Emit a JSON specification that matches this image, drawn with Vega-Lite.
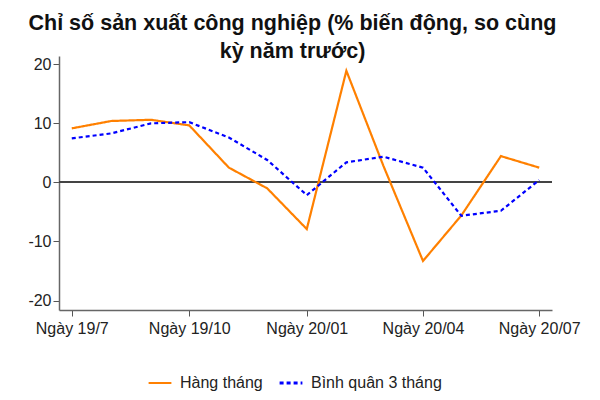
{
  "$schema": "https://vega.github.io/schema/vega-lite/v6.json",
  "width": 493,
  "height": 254,
  "autosize": {"type": "none"},
  "padding": {"left": 59, "top": 56, "right": 48, "bottom": 90},
  "background": "white",
  "config": {
    "font": "Liberation Sans",
    "view": {"stroke": null}
  },
  "title": {
    "text": ["Chỉ số sản xuất công nghiệp (% biến động, so cùng", "kỳ năm trước)"],
    "fontSize": 21.5,
    "fontWeight": "bold",
    "lineHeight": 28,
    "color": "#111",
    "anchor": "middle",
    "dx": -13,
    "offset": -6
  },
  "data": {
    "values": [
      {"date": "2019-07-01", "series": "Hàng tháng", "value": 9.15},
      {"date": "2019-08-01", "series": "Hàng tháng", "value": 10.4},
      {"date": "2019-09-01", "series": "Hàng tháng", "value": 10.6},
      {"date": "2019-10-01", "series": "Hàng tháng", "value": 9.65},
      {"date": "2019-11-01", "series": "Hàng tháng", "value": 2.5},
      {"date": "2019-12-01", "series": "Hàng tháng", "value": -1.0},
      {"date": "2020-01-01", "series": "Hàng tháng", "value": -7.9},
      {"date": "2020-02-01", "series": "Hàng tháng", "value": 18.9},
      {"date": "2020-03-01", "series": "Hàng tháng", "value": 2.8},
      {"date": "2020-04-01", "series": "Hàng tháng", "value": -13.3},
      {"date": "2020-05-01", "series": "Hàng tháng", "value": -5.6},
      {"date": "2020-06-01", "series": "Hàng tháng", "value": 4.45},
      {"date": "2020-07-01", "series": "Hàng tháng", "value": 2.5},
      {"date": "2019-07-01", "series": "Bình quân 3 tháng", "value": 7.45},
      {"date": "2019-08-01", "series": "Bình quân 3 tháng", "value": 8.3},
      {"date": "2019-09-01", "series": "Bình quân 3 tháng", "value": 10.0},
      {"date": "2019-10-01", "series": "Bình quân 3 tháng", "value": 10.2},
      {"date": "2019-11-01", "series": "Bình quân 3 tháng", "value": 7.6},
      {"date": "2019-12-01", "series": "Bình quân 3 tháng", "value": 3.8},
      {"date": "2020-01-01", "series": "Bình quân 3 tháng", "value": -2.15},
      {"date": "2020-02-01", "series": "Bình quân 3 tháng", "value": 3.4},
      {"date": "2020-03-01", "series": "Bình quân 3 tháng", "value": 4.35},
      {"date": "2020-04-01", "series": "Bình quân 3 tháng", "value": 2.5},
      {"date": "2020-05-01", "series": "Bình quân 3 tháng", "value": -5.65},
      {"date": "2020-06-01", "series": "Bình quân 3 tháng", "value": -4.8},
      {"date": "2020-07-01", "series": "Bình quân 3 tháng", "value": 0.4}
    ]
  },
  "layer": [
    {
      "mark": {"type": "rule", "color": "#444", "strokeWidth": 1.3},
      "encoding": {"y": {"datum": 0, "type": "quantitative"}}
    },
    {
      "mark": {"type": "line", "strokeWidth": 2.2},
      "encoding": {
        "x": {
          "field": "date",
          "type": "temporal",
          "scale": {
            "type": "utc",
            "domain": [
              {"year": 2019, "month": 6, "date": 21, "utc": true},
              {"year": 2020, "month": 7, "date": 11, "utc": true}
            ],
            "nice": false
          },
          "axis": {
            "title": null,
            "grid": false,
            "values": [
              {"year": 2019, "month": 7, "date": 1, "utc": true},
              {"year": 2019, "month": 10, "date": 1, "utc": true},
              {"year": 2020, "month": 1, "date": 1, "utc": true},
              {"year": 2020, "month": 4, "date": 1, "utc": true},
              {"year": 2020, "month": 7, "date": 1, "utc": true}
            ],
            "labelExpr": "'Ngày ' + replace(utcFormat(datum.value, '%y/%m'), '19/07', '19/7')",
            "labelFontSize": 16,
            "labelColor": "#222",
            "labelPadding": 4,
            "domainColor": "#666",
            "domainWidth": 1.5,
            "tickColor": "#555",
            "tickSize": 6,
            "labelFlush": false
          }
        },
        "y": {
          "field": "value",
          "type": "quantitative",
          "scale": {"domain": [-21.6, 21.4], "nice": false, "zero": false},
          "axis": {
            "title": null,
            "grid": false,
            "values": [-20, -10, 0, 10, 20],
            "labelExpr": "datum.value < 0 ? '-' + abs(datum.value) : '' + datum.value",
            "labelFontSize": 16,
            "labelColor": "#222",
            "labelPadding": 2,
            "domainColor": "#666",
            "domainWidth": 1.5,
            "tickColor": "#555",
            "tickSize": 6
          }
        },
        "color": {
          "field": "series",
          "type": "nominal",
          "scale": {"domain": ["Hàng tháng", "Bình quân 3 tháng"], "range": ["#ff8000", "#0000ff"]},
          "legend": {
            "title": null,
            "orient": "none",
            "legendX": 88,
            "legendY": 314,
            "direction": "horizontal",
            "labelFontSize": 16,
            "labelColor": "#222",
            "symbolType": "stroke",
            "symbolSize": 520,
            "symbolStrokeWidth": 2.5,
            "columnPadding": 10,
            "labelOffset": 7
          }
        },
        "strokeDash": {
          "field": "series",
          "type": "nominal",
          "scale": {"domain": ["Hàng tháng", "Bình quân 3 tháng"], "range": [[1, 0], [4, 3]]},
          "legend": null
        },
        "strokeWidth": {
          "field": "series",
          "type": "nominal",
          "scale": {"domain": ["Hàng tháng", "Bình quân 3 tháng"], "range": [2.2, 2.8]},
          "legend": null
        }
      }
    }
  ]
}
